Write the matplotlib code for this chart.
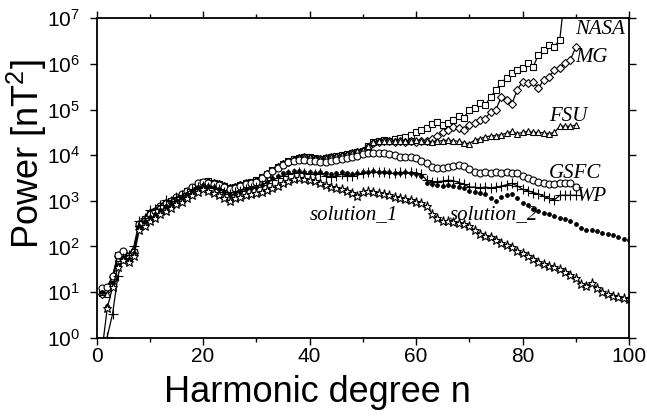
import numpy as np
import matplotlib
matplotlib.use("Agg")
import matplotlib.pyplot as plt
from matplotlib.ticker import LogLocator, NullLocator, MultipleLocator

plt.rcParams['font.family'] = ['Liberation Sans', 'DejaVu Sans']
plt.rcParams['mathtext.fontset'] = 'custom'
plt.rcParams['mathtext.rm'] = 'Liberation Sans'
plt.rcParams['mathtext.it'] = 'Liberation Sans:italic'
plt.rcParams['mathtext.bf'] = 'Liberation Sans:bold'

# log10 of power, one value per degree starting at n=1
gsfc_log = [1.08, 1.12, 1.35, 1.82, 1.90, 1.78, 1.88, 2.50, 2.60, 2.72,
            2.78, 2.88, 2.95, 3.00, 3.08, 3.15, 3.22, 3.30, 3.38, 3.42,
            3.40, 3.36, 3.34, 3.30, 3.26, 3.28, 3.32, 3.36, 3.38, 3.42,
            3.50, 3.58, 3.65, 3.72, 3.78, 3.85, 3.88, 3.90, 3.90, 3.88,
            3.87, 3.85, 3.86, 3.88, 3.90, 3.92, 3.93, 3.95, 3.98, 4.02,
            4.05, 4.05, 4.04, 4.05, 4.03, 4.00, 3.97, 3.95, 3.96, 3.93,
            3.88, 3.82, 3.73, 3.72, 3.72, 3.74, 3.76, 3.79, 3.77, 3.70,
            3.63, 3.60, 3.62, 3.60, 3.63, 3.60, 3.62, 3.60, 3.60, 3.55,
            3.50, 3.46, 3.42, 3.40, 3.36, 3.37, 3.40, 3.40, 3.38, 3.31]

fsu_log = [1.00, 0.95, 1.30, 1.75, 1.85, 1.80, 1.90, 2.48, 2.58, 2.70,
           2.75, 2.85, 2.92, 2.98, 3.05, 3.12, 3.20, 3.28, 3.36, 3.42,
           3.44, 3.40, 3.38, 3.35, 3.30, 3.32, 3.36, 3.40, 3.42, 3.45,
           3.52, 3.60, 3.68, 3.75, 3.82, 3.88, 3.92, 3.95, 3.96, 3.95,
           3.93, 3.92, 3.94, 3.97, 3.98, 4.00, 4.02, 4.05, 4.08, 4.12,
           4.20, 4.28, 4.30, 4.32, 4.31, 4.30, 4.32, 4.30, 4.31, 4.33,
           4.32, 4.30, 4.28, 4.30, 4.32, 4.33, 4.32, 4.30, 4.27, 4.25,
           4.33, 4.36, 4.40, 4.42, 4.43, 4.45, 4.48, 4.52, 4.47, 4.50,
           4.52, 4.50, 4.50, 4.49, 4.47, 4.50, 4.63, 4.64, 4.63, 4.66]

mg_log = [0.95, 1.05, 1.32, 1.78, 1.88, 1.76, 1.86, 2.45, 2.57, 2.68,
          2.74, 2.84, 2.90, 2.97, 3.04, 3.10, 3.18, 3.26, 3.34, 3.40,
          3.42, 3.38, 3.36, 3.32, 3.28, 3.30, 3.35, 3.38, 3.40, 3.44,
          3.50, 3.58, 3.66, 3.74, 3.80, 3.86, 3.90, 3.93, 3.95, 3.94,
          3.92, 3.91, 3.93, 3.96, 3.97, 3.99, 4.01, 4.04, 4.07, 4.10,
          4.18, 4.26, 4.29, 4.30, 4.30, 4.29, 4.31, 4.29, 4.30, 4.28,
          4.30, 4.32, 4.35, 4.42, 4.50, 4.55, 4.62, 4.60, 4.55, 4.65,
          4.70, 4.78, 4.80, 4.95, 5.00, 5.27, 5.20, 5.12, 5.43, 5.61,
          5.58, 5.60, 5.47, 5.65, 5.72, 5.87, 5.92, 6.02, 6.09, 6.37]

nasa_log = [0.98, 1.08, 1.33, 1.80, 1.86, 1.77, 1.87, 2.47, 2.59, 2.70,
            2.76, 2.86, 2.93, 2.99, 3.06, 3.13, 3.21, 3.29, 3.37, 3.41,
            3.43, 3.39, 3.37, 3.33, 3.29, 3.31, 3.34, 3.39, 3.41, 3.45,
            3.51, 3.59, 3.67, 3.73, 3.81, 3.87, 3.91, 3.94, 3.95, 3.95,
            3.93, 3.92, 3.93, 3.96, 3.98, 4.00, 4.02, 4.04, 4.07, 4.10,
            4.20, 4.28, 4.30, 4.33, 4.32, 4.35, 4.38, 4.40, 4.45, 4.50,
            4.55, 4.60, 4.68, 4.72, 4.65, 4.70, 4.78, 4.85, 4.82, 5.00,
            5.03, 5.14, 5.10, 5.27, 5.43, 5.59, 5.69, 5.80, 5.87, 5.90,
            6.02, 5.94, 6.20, 6.31, 6.42, 6.38, 6.53, 7.60]

wp_log = [-0.50, 0.02, 0.52, 1.35, 1.75, 1.80, 2.00, 2.55, 2.62, 2.80,
          2.82, 2.90, 3.02, 3.00, 3.08, 3.12, 3.18, 3.25, 3.30, 3.32,
          3.30, 3.28, 3.25, 3.20, 3.15, 3.20, 3.22, 3.25, 3.28, 3.30,
          3.35, 3.40, 3.45, 3.50, 3.55, 3.58, 3.60, 3.62, 3.60, 3.58,
          3.58, 3.60, 3.55, 3.52, 3.55, 3.58, 3.55, 3.55, 3.58, 3.60,
          3.62, 3.62, 3.63, 3.62, 3.60, 3.60, 3.62, 3.61, 3.62, 3.60,
          3.58, 3.45, 3.42, 3.42, 3.43, 3.45, 3.44, 3.40, 3.36, 3.30,
          3.30, 3.28, 3.30, 3.28, 3.30, 3.32, 3.35, 3.38, 3.33, 3.25,
          3.22, 3.18, 3.15, 3.10, 3.05, 3.02, 3.12, 3.12, 3.12, 3.12]

sol2_log = [1.00, 0.70, 1.20, 1.60, 1.75, 1.72, 1.85, 2.45, 2.55, 2.65,
            2.72, 2.80, 2.88, 2.95, 3.02, 3.08, 3.15, 3.22, 3.30, 3.35,
            3.33, 3.30, 3.25, 3.20, 3.12, 3.15, 3.20, 3.25, 3.28, 3.30,
            3.35, 3.42, 3.50, 3.55, 3.60, 3.64, 3.65, 3.65, 3.64, 3.62,
            3.60, 3.62, 3.60, 3.58, 3.60, 3.62, 3.60, 3.58, 3.60, 3.62,
            3.64, 3.65, 3.64, 3.63, 3.62, 3.60, 3.60, 3.62, 3.60, 3.58,
            3.55, 3.40, 3.36, 3.35, 3.33, 3.34, 3.32, 3.30, 3.28, 3.22,
            3.20, 3.18, 3.15, 3.05, 3.00, 3.08, 3.12, 3.15, 3.05, 2.95,
            2.90, 2.83, 2.78, 2.73, 2.70, 2.66, 2.63, 2.60, 2.55, 2.48,
            2.40, 2.35, 2.36, 2.33, 2.30, 2.28, 2.25, 2.20, 2.16, 2.13]

sol1_log = [-0.30, 0.65, 1.10, 1.55, 1.70, 1.65, 1.78, 2.35, 2.45, 2.55,
            2.62, 2.70, 2.78, 2.85, 2.92, 2.98, 3.05, 3.12, 3.20, 3.25,
            3.22, 3.18, 3.12, 3.05, 3.00, 3.05, 3.08, 3.12, 3.14, 3.16,
            3.20, 3.24, 3.28, 3.33, 3.38, 3.44, 3.48, 3.50, 3.48, 3.46,
            3.44, 3.40, 3.35, 3.30, 3.28, 3.26, 3.22, 3.18, 3.10, 3.20,
            3.22, 3.20, 3.18, 3.15, 3.12, 3.09, 3.06, 3.04, 3.02, 2.98,
            2.95, 2.88, 2.72, 2.62, 2.56, 2.55, 2.54, 2.52, 2.50, 2.44,
            2.36, 2.27, 2.22, 2.20, 2.15, 2.08, 2.02, 1.98, 1.90, 1.85,
            1.78, 1.72, 1.66, 1.62, 1.58, 1.54, 1.50, 1.44, 1.38, 1.30,
            1.18, 1.14, 1.20, 1.08, 1.00, 0.95, 0.92, 0.88, 0.86, 0.85]

labels = ['NASA', 'MG', 'FSU', 'GSFC', 'WP', 'solution_1', 'solution_2']
label_x = [89.8, 89.9, 85.0, 85.0, 90.2, 40.0, 66.3]
label_y = [6.75, 6.13, 4.84, 3.60, 3.10, 2.70, 2.70]

fig = plt.figure(figsize=(6.47, 4.16), dpi=100)
ax = fig.add_axes([96.6 / 647, 1 - 337.6 / 416, (629 - 96.6) / 647, (337.6 - 18.3) / 416])


def curve(vals, **kw):
    n = np.arange(1, len(vals) + 1)
    ax.plot(n, 10 ** np.array(vals), color='k', lw=0.9, mec='k', mew=0.8, **kw)


curve(nasa_log, marker='s', ms=3.8, mfc='white')
curve(mg_log, marker='D', ms=3.6, mfc='white')
curve(fsu_log, marker='^', ms=4.5, mfc='white')
curve(gsfc_log, marker='o', ms=5, mfc='white')
curve(wp_log, marker='+', ms=7)
curve(sol2_log, marker='o', ms=2.6, mfc='k', ls='none')
curve(sol1_log, marker='*', ms=6.5, mfc='white')

for t, x, y in zip(labels, label_x, label_y):
    ax.text(x, 10 ** y, t, family='Liberation Serif', style='italic',
            fontsize=15, va='center', ha='left')

ax.set_xlim(0, 100)
ax.set_ylim(1, 1e7)
ax.set_yscale('log')
ax.xaxis.set_major_locator(MultipleLocator(20))
ax.xaxis.set_minor_locator(MultipleLocator(10))
ax.yaxis.set_major_locator(LogLocator(base=10, numticks=10))
ax.yaxis.set_minor_locator(NullLocator())
ax.tick_params(which='both', direction='out', top=True, right=True, width=1, labelsize=15)
ax.tick_params(which='major', length=5)
ax.tick_params(which='minor', length=3)
ax.tick_params(axis='x', pad=2)
ax.tick_params(axis='y', pad=7)
for s in ax.spines.values():
    s.set_linewidth(1.3)

fig.text(317.5 / 647, 1 - 393 / 416, 'Harmonic degree n', fontsize=26,
         ha='center', va='center')
fig.text(27 / 647, 1 - 154 / 416, 'Power [nT$^2$]', fontsize=26, rotation=90,
         ha='center', va='center')

fig.savefig('out.png', dpi=100)
